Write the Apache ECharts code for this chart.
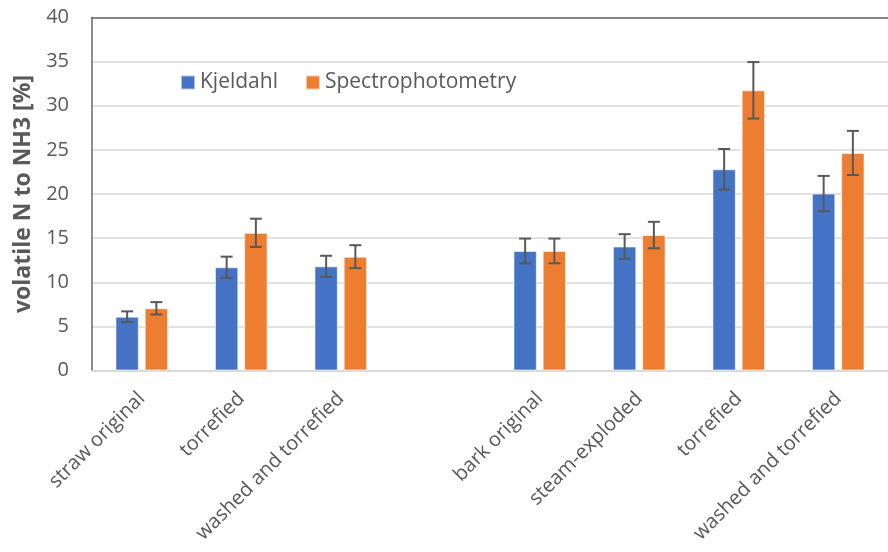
<!DOCTYPE html>
<html>
<head>
<meta charset="utf-8">
<title>volatile N to NH3</title>
<script src="https://cdn.jsdelivr.net/npm/echarts@6/dist/echarts.min.js"></script>
<style>
  html, body { margin: 0; padding: 0; background: #fff; }
  #chart { width: 888px; height: 552px; }
</style>
</head>
<body>
<div id="chart"></div>
<script>
'use strict';

// data
var categories = ['straw original', 'torrefied', 'washed and torrefied', '',
	'bark original', 'steam-exploded', 'torrefied', 'washed and torrefied'];
var kjeldahl = [6.1, 11.7, 11.8, '-', 13.55, 14.05, 22.8, 20.05];
var kjeldahlErr = [0.6, 1.2, 1.2, 0, 1.4, 1.4, 2.3, 2.0];
var spectro = [7.05, 15.6, 12.9, '-', 13.55, 15.35, 31.75, 24.65];
var spectroErr = [0.7, 1.6, 1.3, 0, 1.4, 1.5, 3.2, 2.5];
var yTicks = [0, 5, 10, 15, 20, 25, 30, 35, 40];

var FONT = '"Open Sans", sans-serif';
var TEXT = '#595959';
var BAR_W = 0.235, BAR_GAP = 0.25;

// error bar rows: [category index, low, high]
function errRows(vals, errs) {
	var rows = [];
	for (var i = 0; i < vals.length; i++) {
		if (vals[i] === '-') continue;
		rows.push([i, vals[i] - errs[i], vals[i] + errs[i]]);
	}
	return rows;
}

// draws one error bar, shifted to sit over its bar in the group
function errorBar(side) {
	return function (params, api) {
		var band = api.size([1, 0])[0];
		var shift = side * band * (BAR_W + BAR_W * BAR_GAP) / 2;
		var lo = api.coord([api.value(0), api.value(1)]);
		var hi = api.coord([api.value(0), api.value(2)]);
		var x = lo[0] + shift, cap = 6;
		var style = { stroke: '#595959', lineWidth: 2 };
		return {
			type: 'group',
			children: [
				{ type: 'line', shape: { x1: x, y1: hi[1], x2: x, y2: lo[1] }, style: style },
				{ type: 'line', shape: { x1: x - cap, y1: hi[1], x2: x + cap, y2: hi[1] }, style: style },
				{ type: 'line', shape: { x1: x - cap, y1: lo[1], x2: x + cap, y2: lo[1] }, style: style }
			]
		};
	};
}

var chart = echarts.init(document.getElementById('chart'));

chart.setOption({
	animation: false,
	textStyle: { fontFamily: FONT },
	grid: { left: 92, right: 0, top: 17.5, bottom: 181.5 },
	legend: {
		data: ['Kjeldahl', 'Spectrophotometry'],
		left: 180, top: 72, padding: 0,
		icon: 'rect', itemWidth: 14, itemHeight: 14, itemGap: 27,
		textStyle: { fontFamily: FONT, fontSize: 21, color: TEXT }
	},
	xAxis: [{
		type: 'category',
		data: categories,
		axisLine: { lineStyle: { color: '#d9d9d9', width: 2 } },
		axisTick: { show: false },
		axisLabel: { rotate: 45, interval: 0, margin: 25, fontSize: 20, color: TEXT, fontFamily: FONT }
	}, {
		// dark frame line along the top
		type: 'category',
		data: categories,
		position: 'top',
		axisLine: { lineStyle: { color: '#666', width: 1.5 } },
		axisTick: { show: false },
		axisLabel: { show: false }
	}],
	yAxis: {
		type: 'value',
		min: yTicks[0], max: yTicks[yTicks.length - 1], interval: 5,
		name: 'volatile N to NH3 [%]',
		nameLocation: 'middle', nameGap: 54,
		nameTextStyle: { fontSize: 23, fontWeight: 'bold', color: TEXT, fontFamily: FONT },
		axisLine: { show: true, lineStyle: { color: '#666', width: 1.5 } },
		axisTick: { show: false },
		axisLabel: { margin: 23, fontSize: 20, color: TEXT, fontFamily: FONT },
		splitLine: { lineStyle: { color: '#d9d9d9', width: 1.5 } }
	},
	series: [{
		name: 'Kjeldahl', type: 'bar', data: kjeldahl,
		barWidth: (BAR_W * 100) + '%', barGap: (BAR_GAP * 100) + '%',
		itemStyle: { color: '#4472C4', borderColor: 'rgba(255,255,255,0.6)', borderWidth: 1 }
	}, {
		name: 'Spectrophotometry', type: 'bar', data: spectro,
		barWidth: (BAR_W * 100) + '%', barGap: (BAR_GAP * 100) + '%',
		itemStyle: { color: '#ED7D31', borderColor: 'rgba(255,255,255,0.6)', borderWidth: 1 }
	}, {
		type: 'custom', renderItem: errorBar(-1), data: errRows(kjeldahl, kjeldahlErr),
		encode: { x: 0, y: [1, 2] }, z: 5, silent: true
	}, {
		type: 'custom', renderItem: errorBar(1), data: errRows(spectro, spectroErr),
		encode: { x: 0, y: [1, 2] }, z: 5, silent: true
	}]
});
</script>
</body>
</html>
